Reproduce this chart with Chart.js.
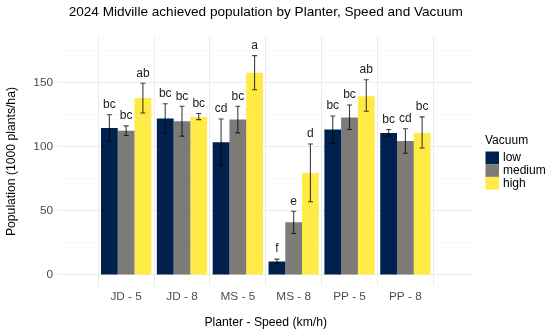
<!DOCTYPE html>
<html>
<head>
<meta charset="utf-8">
<script src="https://cdn.jsdelivr.net/npm/chart.js@4.4.1/dist/chart.umd.min.js"></script>
<style>
  html, body { margin: 0; padding: 0; background: #ffffff; }
  #wrap { width: 550px; height: 333px; }
</style>
</head>
<body>
<div id="wrap"><canvas id="popChart" width="550" height="333"></canvas></div>
<script>
// categories (Planter - Speed)
const categories = ['JD - 5', 'JD - 8', 'MS - 5', 'MS - 8', 'PP - 5', 'PP - 8'];
const seriesNames = ['low', 'medium', 'high'];

// means
const lowMean = [114.8, 122.1, 103.7, 10.6, 113.6, 110.9];
const mediumMean = [112.5, 120.0, 121.3, 41.1, 122.9, 104.5];
const highMean = [138.1, 123.4, 157.8, 79.7, 139.6, 110.9];

// error bar ends
const lowUpper = [125.1, 133.7, 121.8, 12.4, 124.1, 113.6];
const lowLower = [104.2, 110.5, 85.6, 9.1, 102.7, 108.4];
const mediumUpper = [116.4, 131.7, 131.7, 49.7, 132.7, 114.1];
const mediumLower = [108.9, 108.4, 110.9, 32.4, 113.6, 95.0];
const highUpper = [149.7, 126.0, 171.2, 102.2, 152.4, 123.4];
const highLower = [126.5, 121.3, 144.6, 57.2, 127.8, 99.1];

// significance letters
const lowLetters = ['bc', 'bc', 'cd', 'f', 'bc', 'bc'];
const mediumLetters = ['bc', 'bc', 'bc', 'e', 'bc', 'cd'];
const highLetters = ['ab', 'bc', 'a', 'd', 'ab', 'bc'];

const yTicks = [0, 25, 50, 75, 100, 125, 150, 175];

const FONT = '"Liberation Sans", Arial, Helvetica, sans-serif';

function toPoints(arr) {
    return arr.map((v, i) => ({ x: i, y: v }));
}

// error bars + letters drawn on top of the bars
const errorBarPlugin = {
    id: 'errorBars',
    afterDatasetsDraw(chart) {
        const ctx = chart.ctx;
        const yScale = chart.scales.y;
        chart.data.datasets.forEach((ds, i) => {
            const meta = chart.getDatasetMeta(i);
            meta.data.forEach((bar, j) => {
                const x = bar.x;
                const yHi = yScale.getPixelForValue(ds.upper[j]);
                const yLo = yScale.getPixelForValue(ds.lower[j]);
                ctx.save();
                ctx.strokeStyle = 'rgba(0,0,0,0.75)';
                ctx.lineWidth = 1.1;
                ctx.beginPath();
                ctx.moveTo(x, yHi); ctx.lineTo(x, yLo);
                ctx.moveTo(x - 2.5, yHi); ctx.lineTo(x + 2.5, yHi);
                ctx.moveTo(x - 2.5, yLo); ctx.lineTo(x + 2.5, yLo);
                ctx.stroke();
                ctx.fillStyle = '#1a1a1a';
                ctx.font = '12px ' + FONT;
                ctx.textAlign = 'center';
                ctx.textBaseline = 'middle';
                ctx.fillText(ds.letters[j], x, yHi - 10);
                ctx.restore();
            });
        });
    }
};

// title and legend like the ggplot original
const decorPlugin = {
    id: 'decor',
    afterDraw(chart) {
        const ctx = chart.ctx;
        const area = chart.chartArea;
        ctx.save();
        ctx.fillStyle = '#000000';
        ctx.font = '13.6px ' + FONT;
        ctx.textAlign = 'center';
        ctx.textBaseline = 'middle';
        ctx.fillText('2024 Midville achieved population by Planter, Speed and Vacuum', (area.left + area.right) / 2, 12);

        // legend
        ctx.textAlign = 'left';
        ctx.font = '12px ' + FONT;
        ctx.fillText('Vacuum', 485, 141);
        chart.data.datasets.forEach((ds, i) => {
            const top = 151.5 + i * 12.7;
            ctx.fillStyle = ds.backgroundColor;
            ctx.fillRect(485.5, top, 13.5, 12.7);
            ctx.fillStyle = '#000000';
            ctx.fillText(ds.label, 503, top + 6.6);
        });
        ctx.restore();
    }
};

function createPopulationChart() {
    const ctx = document.getElementById('popChart').getContext('2d');
    new Chart(ctx, {
        type: 'bar',
        data: {
            datasets: [
                { label: seriesNames[0], data: toPoints(lowMean), upper: lowUpper, lower: lowLower, letters: lowLetters, backgroundColor: '#00204D' },
                { label: seriesNames[1], data: toPoints(mediumMean), upper: mediumUpper, lower: mediumLower, letters: mediumLetters, backgroundColor: '#7C7B78' },
                { label: seriesNames[2], data: toPoints(highMean), upper: highUpper, lower: highLower, letters: highLetters, backgroundColor: '#FFEA46' }
            ]
        },
        options: {
            responsive: false,
            animation: false,
            devicePixelRatio: 1,
            layout: { padding: { top: 36.7, right: 76.5, left: 0, bottom: 0 } },
            datasets: { bar: { barPercentage: 1, categoryPercentage: 0.9 } },
            scales: {
                x: {
                    type: 'linear',
                    min: -0.6,
                    max: 5.6,
                    afterBuildTicks(scale) {
                        scale.ticks = categories.map((_, i) => ({ value: i }));
                    },
                    afterFit(scale) { scale.height = 46.6; },
                    border: { display: false },
                    grid: { color: '#EBEBEB', lineWidth: 1, drawTicks: false },
                    ticks: {
                        padding: 3,
                        color: '#4D4D4D',
                        font: { family: FONT, size: 11.8 },
                        maxRotation: 0,
                        callback: (v) => categories[v]
                    },
                    title: {
                        display: true,
                        text: 'Planter - Speed (km/h)',
                        color: '#000000',
                        font: { family: FONT, size: 12.2 },
                        padding: { top: 0, bottom: 3.3 }
                    }
                },
                y: {
                    min: -8.9,
                    max: 186,
                    afterBuildTicks(scale) {
                        scale.ticks = yTicks.map(v => ({ value: v }));
                    },
                    afterFit(scale) { scale.width = 58; },
                    border: { display: false },
                    grid: {
                        drawTicks: false,
                        color: (c) => (c.tick && c.tick.value % 50 === 0) ? '#EBEBEB' : '#F3F3F3',
                        lineWidth: (c) => (c.tick && c.tick.value % 50 === 0) ? 1 : 0.7
                    },
                    ticks: {
                        padding: 5,
                        color: '#4D4D4D',
                        font: { family: FONT, size: 11.8 },
                        callback: (v) => (v % 50 === 0 ? String(v) : '')
                    },
                    title: {
                        display: true,
                        text: 'Population (1000 plants/ha)',
                        color: '#000000',
                        font: { family: FONT, size: 12.2 },
                        padding: { top: 4.4, bottom: 0 }
                    }
                }
            },
            plugins: {
                legend: { display: false },
                title: { display: false },
                tooltip: { enabled: false }
            }
        },
        plugins: [errorBarPlugin, decorPlugin]
    });
}

window.onload = function() {
    createPopulationChart();
};
</script>
</body>
</html>
